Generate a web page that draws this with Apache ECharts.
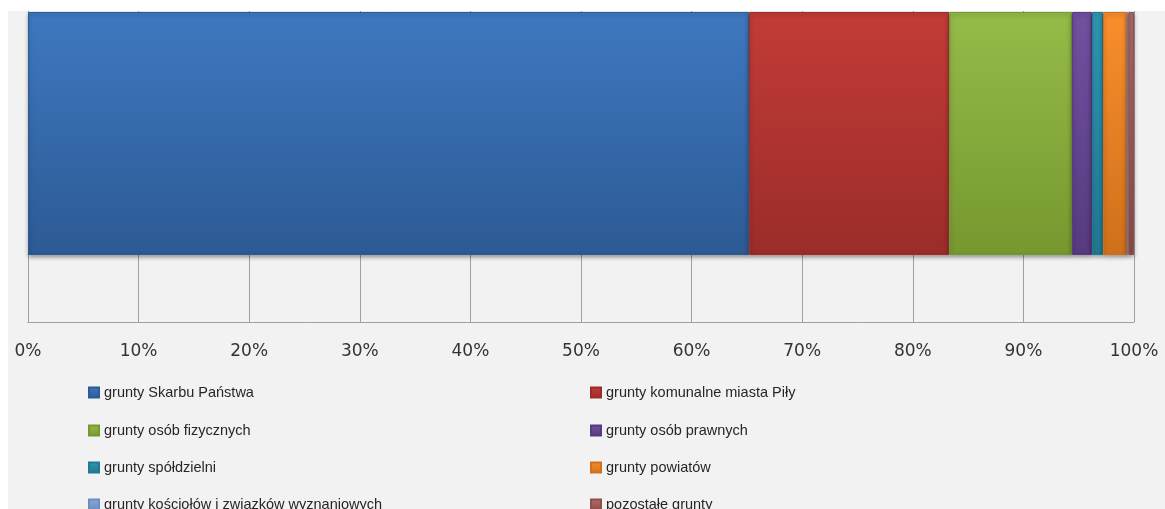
<!DOCTYPE html>
<html>
<head>
<meta charset="utf-8">
<script src="https://cdn.jsdelivr.net/npm/echarts@6/dist/echarts.min.js"></script>
<style>
  html, body { margin: 0; padding: 0; background: #fff; }
  #chart { width: 1165px; height: 509px; }
</style>
</head>
<body>
<div id="chart"></div>
<script>
// udział gruntów wg własności (%)
var categories = [''];
var seriesNames = [
    'grunty Skarbu Państwa',
    'grunty komunalne miasta Piły',
    'grunty osób fizycznych',
    'grunty osób prawnych',
    'grunty spółdzielni',
    'grunty powiatów',
    'grunty kościołów i związków wyznaniowych',
    'pozostałe grunty'
];
var seriesValues = [65.2, 18.1, 11.1, 1.8, 1.0, 2.2, 0.1, 0.5];
var tickLabels = ['0%', '10%', '20%', '30%', '40%', '50%', '60%', '70%', '80%', '90%', '100%'];

var colorsTop = ['#3f78c0', '#c33c37', '#95bb48', '#7150a0', '#2e97b3', '#f98e2c', '#8aa8d8', '#b86a69'];
var colorsBottom = ['#2c5a94', '#9b2c2a', '#76982f', '#573a80', '#217892', '#d0701b', '#6d8cc0', '#8f4d4c'];

var series = [];
for (var i = 0; i < seriesNames.length; i++) {
    series.push({
        name: seriesNames[i],
        type: 'bar',
        stack: 'total',
        barWidth: 243,
        barGap: 0,
        itemStyle: {
            color: new echarts.graphic.LinearGradient(0, 0, 0, 1, [
                {offset: 0, color: colorsTop[i]},
                {offset: 1, color: colorsBottom[i]}
            ]),
            borderColor: colorsBottom[i],
            borderWidth: 1,
            shadowBlur: 4,
            shadowColor: 'rgba(0,0,0,0.35)',
            shadowOffsetY: 2
        },
        data: [seriesValues[i]]
    });
}
// pusty pasek pod właściwym, żeby przesunąć go w górę pasma kategorii
series.push({
    name: 'pad',
    type: 'bar',
    stack: 'pad',
    barWidth: 55,
    barGap: 0,
    silent: true,
    itemStyle: {color: 'rgba(0,0,0,0)'},
    data: [0]
});

var legendFont = {fontFamily: 'Liberation Sans', fontSize: 14.5, color: '#262626'};
var legendX = [88, 590];
var legendY = [385, 423, 460, 497];
var legends = [];
for (var k = 0; k < seriesNames.length; k++) {
    legends.push({
        left: legendX[k % 2],
        top: legendY[Math.floor(k / 2)],
        padding: 0,
        itemWidth: 10,
        itemHeight: 10,
        itemGap: 4,
        icon: 'rect',
        textStyle: legendFont,
        data: [seriesNames[k]]
    });
}

var option = {
    animation: false,
    backgroundColor: '#ffffff',
    graphic: [
        {type: 'rect', z: -10, shape: {x: 8, y: 11, width: 1157, height: 498}, style: {fill: '#f2f2f2'}},
        {type: 'rect', z: 100, shape: {x: 0, y: 0, width: 1165, height: 11}, style: {fill: '#ffffff'}}
    ],
    grid: {left: 28, right: 31, top: 0, height: 322},
    xAxis: {
        type: 'value',
        min: 0,
        max: 100,
        interval: 10,
        axisLine: {show: true, lineStyle: {color: '#a0a0a0'}},
        axisTick: {show: false},
        splitLine: {show: true, lineStyle: {color: '#a0a0a0'}},
        axisLabel: {
            margin: 21,
            fontFamily: 'DejaVu Sans',
            fontSize: 17,
            color: '#333',
            formatter: function (v) { return tickLabels[Math.round(v / 10)]; }
        }
    },
    yAxis: {
        type: 'category',
        data: categories,
        axisLine: {show: true, lineStyle: {color: '#a0a0a0'}},
        axisTick: {show: false},
        axisLabel: {show: false}
    },
    legend: legends,
    series: series
};

var myChart = echarts.init(document.getElementById('chart'));
myChart.setOption(option);
</script>
</body>
</html>
